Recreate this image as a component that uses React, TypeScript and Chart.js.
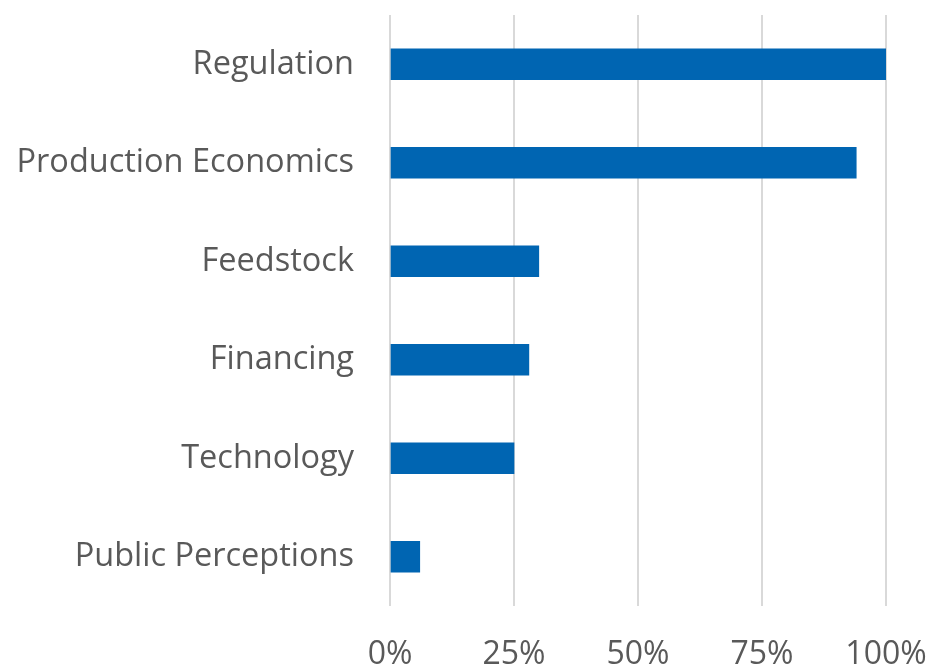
import React, { useEffect, useRef } from "react";
import { Chart, registerables } from "chart.js";

Chart.register(...registerables);

const categories = [
  "Regulation",
  "Production Economics",
  "Feedstock",
  "Financing",
  "Technology",
  "Public Perceptions",
];
const values = [100, 94, 30, 28, 25, 6];
const xTicks = [0, 25, 50, 75, 100];

const zeroPad = (scale: any) => {
  scale.paddingTop = 0;
  scale.paddingBottom = 0;
  scale.paddingLeft = 0;
  scale.paddingRight = 0;
};

export default function App() {
  const ref = useRef<HTMLCanvasElement | null>(null);

  useEffect(() => {
    if (!ref.current) return;
    const chart = new Chart(ref.current, {
      type: "bar",
      data: {
        labels: categories,
        datasets: [
          {
            data: values,
            backgroundColor: "#0065b2",
            borderWidth: 0,
            barThickness: 31,
          },
        ],
      },
      options: {
        indexAxis: "y",
        animation: false,
        responsive: false,
        layout: { padding: { top: 15, right: 46, left: 0, bottom: 0 } },
        plugins: { legend: { display: false }, tooltip: { enabled: false } },
        scales: {
          x: {
            min: 0,
            max: 100,
            afterBuildTicks: (scale: any) => {
              scale.ticks = xTicks.map((v) => ({ value: v }));
            },
            afterFit: (scale: any) => {
              scale.height = 61;
              zeroPad(scale);
            },
            grid: { color: "#d9d9d9", lineWidth: 2, drawTicks: false },
            border: { display: false },
            ticks: {
              padding: 30,
              color: "#595959",
              font: { family: "'Open Sans'", size: 32 },
              callback: (v: any) => v + "%",
              maxRotation: 0,
            },
          },
          y: {
            afterFit: (scale: any) => {
              scale.width = 390;
              zeroPad(scale);
            },
            grid: { display: false, drawTicks: false },
            border: { display: false },
            ticks: {
              padding: 36,
              color: "#595959",
              font: { family: "'Open Sans'", size: 32.5 },
            },
          },
        },
      },
    });
    return () => chart.destroy();
  }, []);

  return (
    <div style={{ position: "absolute", left: 0, top: 0, width: 932, height: 667 }}>
      <canvas ref={ref} width={932} height={667} style={{ display: "block" }} />
    </div>
  );
}
